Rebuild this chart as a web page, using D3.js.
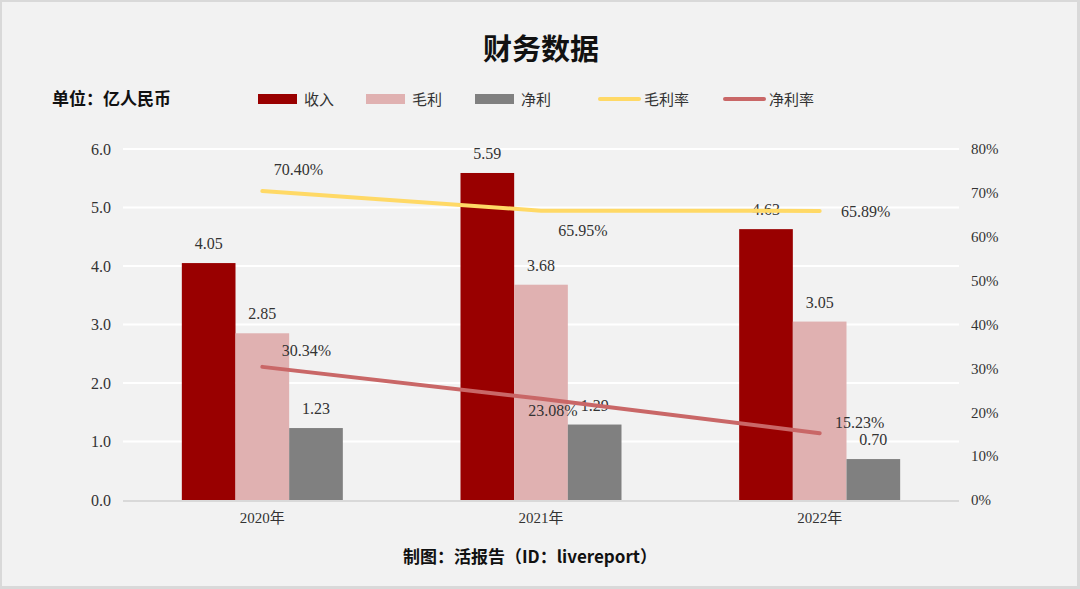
<!DOCTYPE html>
<html><head><meta charset="utf-8">
<script src="https://cdn.jsdelivr.net/npm/d3@7"></script>
<style>
html,body{margin:0;padding:0;background:#fff;}
svg{display:block;}
</style></head>
<body>
<script>
const categories = ["2020年", "2021年", "2022年"];
const revenue = [4.05, 5.59, 4.63];
const grossProfit = [2.85, 3.68, 3.05];
const netProfit = [1.23, 1.29, 0.70];
const grossMargin = [70.40, 65.95, 65.89];
const netMargin = [30.34, 23.08, 15.23];
const leftTicks = [0, 1, 2, 3, 4, 5, 6];
const rightTicks = [0, 10, 20, 30, 40, 50, 60, 70, 80];
const seriesNames = ["收入", "毛利", "净利", "毛利率", "净利率"];

const W = 1080, H = 589;
const svg = d3.select("body").append("svg").attr("width", W).attr("height", H);
const serif = "'Liberation Serif','DejaVu Serif','Noto Sans CJK SC',serif";
const cjk = "'Noto Sans CJK SC','Noto Sans',sans-serif";

// background and frame
svg.append("rect").attr("x", 0).attr("y", 0).attr("width", W).attr("height", H).attr("fill", "#D9D9D9");
svg.append("rect").attr("x", 2).attr("y", 2).attr("width", W - 5).attr("height", H - 5).attr("fill", "#F2F2F2");

const plot = {l: 123, r: 959, t: 149, b: 500};
const x = d3.scaleBand().domain(categories).range([plot.l, plot.r]);
const y = d3.scaleLinear().domain([0, 6]).range([plot.b, plot.t]);
const y2 = d3.scaleLinear().domain([0, 80]).range([plot.b, plot.t]);
const groupW = 161;
const xs = d3.scaleBand().domain([0, 1, 2]).range([0, groupW]);

// gridlines
svg.append("g").selectAll("line").data(leftTicks.filter(d => d > 0)).join("line")
  .attr("x1", plot.l).attr("x2", plot.r)
  .attr("y1", d => y(d)).attr("y2", d => y(d))
  .attr("stroke", "#FFFFFF").attr("stroke-width", 2);

// left axis
const leftAxis = svg.append("g").attr("transform", `translate(${plot.l},0)`)
  .call(d3.axisLeft(y).tickValues(leftTicks).tickFormat(d3.format(".1f")).tickSize(0).tickPadding(12));
leftAxis.select(".domain").remove();
leftAxis.selectAll("text").attr("font-family", serif).attr("font-size", 16).attr("fill", "#333");

// right axis
const rightAxis = svg.append("g").attr("transform", `translate(${plot.r},0)`)
  .call(d3.axisRight(y2).tickValues(rightTicks).tickFormat(d => d + "%").tickSize(0).tickPadding(12));
rightAxis.select(".domain").remove();
rightAxis.selectAll("text").attr("font-family", serif).attr("font-size", 15).attr("fill", "#333");

// bars
const barSeries = [
  {vals: revenue, color: "#990000"},
  {vals: grossProfit, color: "#E0B1B1"},
  {vals: netProfit, color: "#808080"}
];
const barG = svg.append("g");
barSeries.forEach((s, i) => {
  barG.selectAll(null).data(s.vals).join("rect")
    .attr("x", (d, j) => x(categories[j]) + x.bandwidth() / 2 - groupW / 2 + xs(i))
    .attr("width", xs.bandwidth())
    .attr("y", d => y(d))
    .attr("height", d => y(0) - y(d))
    .attr("fill", s.color);
  barG.selectAll(null).data(s.vals).join("text")
    .attr("x", (d, j) => x(categories[j]) + x.bandwidth() / 2 - groupW / 2 + xs(i) + xs.bandwidth() / 2)
    .attr("y", d => y(d) - 14)
    .attr("text-anchor", "middle")
    .attr("font-family", serif).attr("font-size", 16).attr("fill", "#333")
    .text(d => d.toFixed(2));
});

// x axis line
svg.append("line").attr("x1", plot.l).attr("x2", plot.r).attr("y1", plot.b + 1).attr("y2", plot.b + 1)
  .attr("stroke", "#D9D9D9").attr("stroke-width", 2);
const xAxis = svg.append("g").attr("transform", `translate(0,${plot.b})`)
  .call(d3.axisBottom(x).tickSize(0).tickPadding(12));
xAxis.select(".domain").remove();
xAxis.selectAll("text").attr("font-family", serif).attr("font-size", 15).attr("fill", "#333");

// lines
const cx = d => x(d) + x.bandwidth() / 2;
const line = d3.line().x(d => cx(d.c)).y(d => y2(d.v));
const gmData = categories.map((c, i) => ({c, v: grossMargin[i]}));
const nmData = categories.map((c, i) => ({c, v: netMargin[i]}));
svg.append("path").datum(gmData).attr("d", line).attr("fill", "none")
  .attr("stroke", "#FFD966").attr("stroke-width", 4).attr("stroke-linecap", "round");
svg.append("path").datum(nmData).attr("d", line).attr("fill", "none")
  .attr("stroke", "#C96767").attr("stroke-width", 4).attr("stroke-linecap", "round");

const gmOff = [[36, -16], [42, 25], [46, 6]];
const nmOff = [[44, -11], [12, 17], [40, -5]];
svg.append("g").selectAll("text").data(gmData).join("text")
  .attr("x", (d, i) => cx(d.c) + gmOff[i][0]).attr("y", (d, i) => y2(d.v) + gmOff[i][1])
  .attr("text-anchor", "middle").attr("font-family", serif).attr("font-size", 16).attr("fill", "#333")
  .text(d => d.v.toFixed(2) + "%");
svg.append("g").selectAll("text").data(nmData).join("text")
  .attr("x", (d, i) => cx(d.c) + nmOff[i][0]).attr("y", (d, i) => y2(d.v) + nmOff[i][1])
  .attr("text-anchor", "middle").attr("font-family", serif).attr("font-size", 16).attr("fill", "#333")
  .text(d => d.v.toFixed(2) + "%");

// title
svg.append("text").attr("x", 541).attr("y", 60).attr("text-anchor", "middle")
  .attr("font-family", cjk).attr("font-weight", "bold").attr("font-size", 29).attr("fill", "#111")
  .text("财务数据");
svg.append("text").attr("x", 52).attr("y", 105)
  .attr("font-family", cjk).attr("font-weight", "bold").attr("font-size", 17).attr("fill", "#111")
  .text("单位：亿人民币");

// legend
const legend = [
  {name: seriesNames[0], type: "rect", color: "#990000", x: 258},
  {name: seriesNames[1], type: "rect", color: "#E0B1B1", x: 366},
  {name: seriesNames[2], type: "rect", color: "#808080", x: 475},
  {name: seriesNames[3], type: "line", color: "#FFD966", x: 598},
  {name: seriesNames[4], type: "line", color: "#C96767", x: 723}
];
const lg = svg.append("g");
legend.forEach(l => {
  if (l.type === "rect") {
    lg.append("rect").attr("x", l.x).attr("y", 94).attr("width", 39).attr("height", 10).attr("fill", l.color);
  } else {
    lg.append("line").attr("x1", l.x + 2).attr("x2", l.x + 41).attr("y1", 99).attr("y2", 99)
      .attr("stroke", l.color).attr("stroke-width", 4).attr("stroke-linecap", "round");
  }
  lg.append("text").attr("x", l.x + 46).attr("y", 105)
    .attr("font-family", cjk).attr("font-size", 15).attr("fill", "#333").text(l.name);
});

// footer
svg.append("text").attr("x", 530).attr("y", 563).attr("text-anchor", "middle")
  .attr("font-family", cjk).attr("font-weight", "bold").attr("font-size", 17).attr("fill", "#111")
  .text("制图：活报告（ID：livereport）");
</script>
</body></html>
